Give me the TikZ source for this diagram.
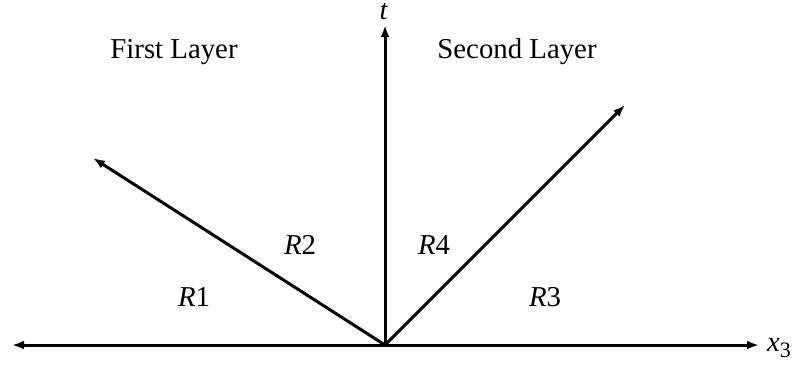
\documentclass[tikz,border=0pt]{standalone}
\usepackage{fontspec}
\setmainfont{Liberation Serif}
\usetikzlibrary{arrows.meta,positioning}

\begin{document}
\begin{tikzpicture}[x=0.5pt, y=-0.5pt,
  axis/.style={line width=1.5pt, -{Latex[length=6pt,width=4.4pt]}},
  lbl/.style={font=\fontsize{14.4}{17}\selectfont, inner sep=0pt}
]
  \useasboundingbox (0,0) rectangle (796,365);
  \coordinate (O) at (385,345);
  \coordinate (xl) at (12,345);
  \coordinate (xr) at (759,345);
  \coordinate (tt) at (385,25);
  \coordinate (rl) at (93,158);
  \coordinate (rr) at (625,105);

  \draw[axis] (O) -- (xl);
  \draw[axis] (O) -- (xr);
  \draw[axis] (O) -- (tt);
  \draw[axis] (O) -- (rl);
  \draw[axis] (O) -- (rr);

  \node[lbl] (x3) at (779,348) {\textit{x}\raisebox{-3pt}{\fontsize{11}{13}\selectfont 3}};
  \node[lbl] (t)  at (384,12) {\textit{t}};
  \node[lbl] (first)  at (174,52) {First Layer};
  \node[lbl] (second) at (517,52) {Second Layer};
  \node[lbl] (R1) at (194,297) {\textit{R}1};
  \node[lbl] (R2) at (300,245) {\textit{R}2};
  \node[lbl] (R4) at (434,245) {\textit{R}4};
  \node[lbl] (R3) at (545,297) {\textit{R}3};
\end{tikzpicture}
\end{document}
